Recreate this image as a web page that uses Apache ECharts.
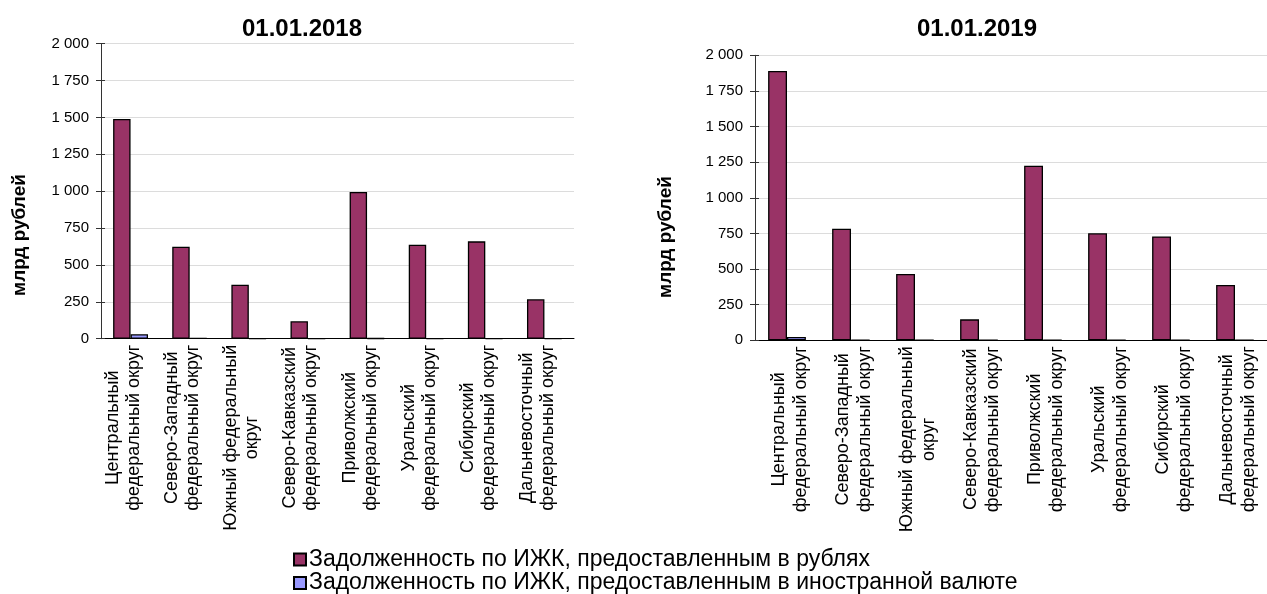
<!DOCTYPE html>
<html>
<head>
<meta charset="utf-8">
<script src="https://cdn.jsdelivr.net/npm/echarts@6/dist/echarts.min.js"></script>
<style>
html,body{margin:0;padding:0;background:#fff;}
#c{width:1267px;height:594px;}
</style>
</head>
<body>
<div id="c"></div>
<script>
const categories = [
  'Центральный\nфедеральный округ',
  'Северо-Западный\nфедеральный округ',
  'Южный федеральный\nокруг',
  'Северо-Кавказский\nфедеральный округ',
  'Приволжский\nфедеральный округ',
  'Уральский\nфедеральный округ',
  'Сибирский\nфедеральный округ',
  'Дальневосточный\nфедеральный округ'
];
const seriesNames = [
  'Задолженность по ИЖК, предоставленным в рублях',
  'Задолженность по ИЖК, предоставленным в иностранной валюте'
];
const titles = ['01.01.2018', '01.01.2019'];
const yName = 'млрд рублей';
const rub2018 = [1490, 624, 366, 118, 995, 637, 660, 267];
const fx2018  = [30, 5, 2, 1, 3, 2, 2, 2];
const rub2019 = [1890, 783, 465, 147, 1225, 751, 729, 388];
const fx2019  = [24, 3, 2, 1, 2, 2, 2, 2];

const FONT = '"Liberation Sans", Arial, sans-serif';
const COLORS = ['#993366', '#9999FF'];

function fmtNum(v){ return String(v).replace(/\B(?=(\d{3})+(?!\d))/g, ' '); }

const grids = [
  {left: 101, top: 43.7, width: 473, height: 295},
  {left: 755, top: 55.3, width: 517, height: 285}
];
const labelPad = [[0, 0, 14, 0], [6, 0, 0, 0]];
const labelLH = [21, 22.5];

const xAxes = [], yAxes = [];
grids.forEach((g, i) => {
  xAxes.push({
    type: 'category', gridIndex: i, data: categories, position: 'bottom',
    axisLine: {lineStyle: {color: '#000', width: 1}},
    axisTick: {interval: 0, length: 5, lineStyle: {color: '#000'}},
    axisLabel: {
      interval: 0, rotate: 90, margin: 6, color: '#000',
      fontFamily: FONT, fontSize: 18, padding: labelPad[i],
      formatter: v => v.split('\n').map(l => '{c|' + l + '}').join('\n'),
      rich: {c: {align: 'center', fontFamily: FONT, fontSize: 18, lineHeight: labelLH[i], color: '#000'}}
    }
  });
  yAxes.push({
    type: 'value', gridIndex: i, min: 0, max: 2000, interval: 250, position: 'left',
    axisLine: {show: true, lineStyle: {color: '#333', width: 1}},
    axisTick: {show: true, length: 5, lineStyle: {color: '#333'}},
    axisLabel: {color: '#000', fontFamily: FONT, fontSize: 15, margin: 12, formatter: fmtNum},
    splitLine: {show: true, lineStyle: {color: '#dcdcdc', width: 1}}
  });
});
// dummy axes for inner half of "cross" tick marks
grids.forEach((g, i) => {
  xAxes.push({
    type: 'category', gridIndex: i, data: categories, position: 'bottom',
    axisLine: {show: false},
    axisTick: {inside: true, interval: 0, length: 4, lineStyle: {color: '#000'}},
    axisLabel: {show: false}
  });
  yAxes.push({
    type: 'value', gridIndex: i, min: 0, max: 2000, interval: 250, position: 'left',
    axisLine: {show: false},
    axisTick: {show: true, inside: true, length: 4, lineStyle: {color: '#333'}},
    axisLabel: {show: false},
    splitLine: {show: false}
  });
});

const data = [[rub2018, fx2018], [rub2019, fx2019]];
const series = [];
data.forEach((pair, gi) => {
  pair.forEach((vals, si) => {
    series.push({
      type: 'bar', name: seriesNames[si],
      xAxisIndex: gi, yAxisIndex: gi,
      data: vals,
      barGap: '0%', barCategoryGap: '41%',
      itemStyle: {color: COLORS[si], borderColor: '#000', borderWidth: 1.3},
      emphasis: {disabled: true}
    });
  });
});

const legendText = {fontFamily: FONT, fontSize: 23, color: '#000', lineHeight: 23, padding: [0, 0, 0, -2]};
const chart = echarts.init(document.getElementById('c'));
chart.setOption({
  animation: false,
  backgroundColor: '#fff',
  textStyle: {fontFamily: FONT},
  title: [
    {text: titles[0], left: 302, top: 17, textAlign: 'center', padding: 0,
     textStyle: {fontFamily: FONT, fontSize: 24, fontWeight: 'bold', color: '#000'}},
    {text: titles[1], left: 977, top: 17, textAlign: 'center', padding: 0,
     textStyle: {fontFamily: FONT, fontSize: 24, fontWeight: 'bold', color: '#000'}}
  ],
  legend: [
    {data: [seriesNames[0]], left: 293, top: 548, padding: 0,
     itemWidth: 12, itemHeight: 12, icon: 'rect', selectedMode: false, textStyle: legendText},
    {data: [seriesNames[1]], left: 293, top: 571.5, padding: 0,
     itemWidth: 12, itemHeight: 12, icon: 'rect', selectedMode: false, textStyle: legendText}
  ],
  grid: grids,
  xAxis: xAxes,
  yAxis: yAxes,
  series: series,
  graphic: [
    {type: 'text', x: 20, y: 235, rotation: Math.PI / 2,
     style: {text: yName, fontFamily: FONT, fontSize: 19, fontWeight: 'bold', fill: '#000', align: 'center', verticalAlign: 'middle'}},
    {type: 'text', x: 666, y: 237, rotation: Math.PI / 2,
     style: {text: yName, fontFamily: FONT, fontSize: 19, fontWeight: 'bold', fill: '#000', align: 'center', verticalAlign: 'middle'}}
  ]
});
</script>
</body>
</html>
